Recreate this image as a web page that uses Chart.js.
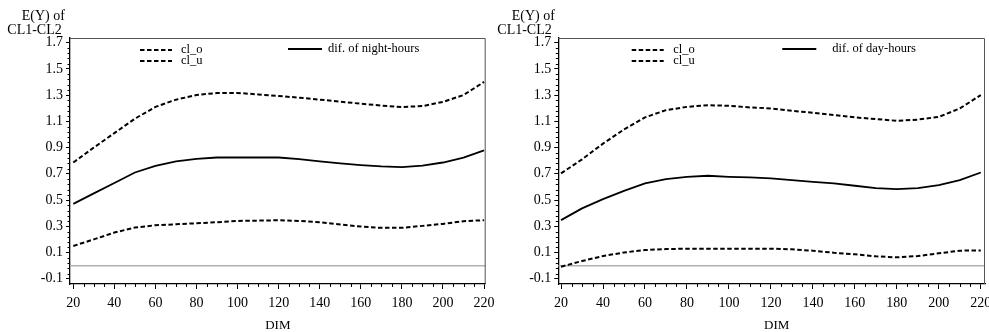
<!DOCTYPE html>
<html><head><meta charset="utf-8">
<script src="https://cdn.jsdelivr.net/npm/chart.js@4"></script>
<style>
html,body{margin:0;padding:0;background:#fff;}
#wrap{position:relative;width:989px;height:332px;overflow:hidden;background:#fff;}
canvas{position:absolute;top:0;}
#c1{left:0;} #c2{left:495px;}
</style></head><body>
<div id="wrap"><canvas id="c1" width="495" height="332"></canvas><canvas id="c2" width="494" height="332"></canvas></div>
<script>
// ---- data ----
const dim = [20,30,40,50,60,70,80,90,100,110,120,130,140,150,160,170,180,190,200,210,220];
const nightUpper = [0.786,0.90,1.01,1.12,1.21,1.265,1.30,1.316,1.316,1.305,1.293,1.28,1.265,1.25,1.234,1.22,1.209,1.216,1.248,1.30,1.40];
const nightDiff  = [0.471,0.551,0.63,0.71,0.761,0.794,0.814,0.824,0.824,0.824,0.824,0.812,0.794,0.779,0.766,0.756,0.751,0.763,0.786,0.824,0.878];
const nightLower = [0.150,0.20,0.252,0.29,0.308,0.315,0.323,0.331,0.341,0.343,0.346,0.341,0.331,0.313,0.298,0.288,0.288,0.303,0.318,0.339,0.346];
const dayUpper = [0.703,0.81,0.93,1.038,1.13,1.185,1.21,1.223,1.218,1.206,1.198,1.18,1.165,1.147,1.13,1.117,1.104,1.113,1.134,1.198,1.30];
const dayDiff  = [0.347,0.436,0.507,0.57,0.627,0.66,0.677,0.685,0.677,0.672,0.665,0.652,0.639,0.627,0.609,0.591,0.583,0.591,0.614,0.652,0.71];
const dayLower = [-0.008,0.035,0.073,0.10,0.119,0.126,0.129,0.129,0.129,0.129,0.129,0.124,0.114,0.098,0.086,0.071,0.063,0.073,0.094,0.114,0.116];
const xTickValues = [20,40,60,80,100,120,140,160,180,200,220];
const yTickValues = [-0.1,0.1,0.3,0.5,0.7,0.9,1.1,1.3,1.5,1.7];
const xMinorPerMajor = 4;
const yMinorPerMajor = 5;
const yTitleLines = ['E(Y) of','CL1-CL2'];
const xTitle = 'DIM';
const bandLabels = ['cl_o','cl_u'];
const nightLabel = 'dif. of night-hours';
const dayLabel = 'dif. of day-hours';
const refValue = 0;

const SERIF = "'Liberation Serif','Times New Roman',serif";

const decor = {
  id: 'decor',
  beforeDatasetsDraw(chart, args, o) {
    const {ctx, chartArea: a, scales: {y}} = chart;
    const py = y.getPixelForValue(refValue);
    ctx.save();
    ctx.strokeStyle = '#b0b0b0'; ctx.lineWidth = 1.5;
    ctx.beginPath(); ctx.moveTo(a.left, py); ctx.lineTo(a.right, py); ctx.stroke();
    ctx.restore();
  },
  afterDraw(chart, args, o) {
    const {ctx, chartArea: a, scales: {x, y}} = chart;
    ctx.save();
    // frame top/right
    ctx.strokeStyle = '#555'; ctx.lineWidth = 1;
    ctx.beginPath();
    ctx.moveTo(a.left, a.top + 0.5); ctx.lineTo(a.right - 0.5, a.top + 0.5); ctx.lineTo(a.right - 0.5, a.bottom);
    ctx.stroke();
    // minor ticks
    ctx.strokeStyle = '#000'; ctx.lineWidth = 1;
    ctx.beginPath();
    for (let i = 0; i < xTickValues.length - 1; i++) {
      const v0 = xTickValues[i], v1 = xTickValues[i + 1];
      for (let k = 1; k < xMinorPerMajor; k++) {
        const px = Math.round(x.getPixelForValue(v0 + (v1 - v0) * k / xMinorPerMajor)) + 0.5;
        ctx.moveTo(px, a.bottom); ctx.lineTo(px, a.bottom + 3);
      }
    }
    for (let i = 0; i < yTickValues.length - 1; i++) {
      const v0 = yTickValues[i], v1 = yTickValues[i + 1];
      for (let k = 1; k < yMinorPerMajor; k++) {
        const py = Math.round(y.getPixelForValue(v0 + (v1 - v0) * k / yMinorPerMajor)) + 0.5;
        ctx.moveTo(a.left, py); ctx.lineTo(a.left - 2.5, py);
      }
    }
    ctx.stroke();
    // legend
    ctx.fillStyle = '#000';
    ctx.textBaseline = 'middle'; ctx.textAlign = 'left';
    ctx.font = '12.5px ' + SERIF;
    const L = o.legend;
    ctx.lineWidth = 2; ctx.setLineDash([4.5, 2.5]);
    L.band.forEach((t, i) => {
      const yy = a.top + L.bandY[i];
      ctx.beginPath(); ctx.moveTo(a.left + L.bandX0, yy); ctx.lineTo(a.left + L.bandX1, yy); ctx.stroke();
      ctx.fillText(t, a.left + L.bandTextX, yy);
    });
    ctx.setLineDash([]);
    ctx.lineWidth = 1.8;
    const sy = a.top + L.solidY;
    ctx.beginPath(); ctx.moveTo(a.left + L.solidX0, sy); ctx.lineTo(a.left + L.solidX1, sy); ctx.stroke();
    ctx.fillText(L.solid, a.left + L.solidTextX, sy);
    // titles
    ctx.font = '14px ' + SERIF;
    o.yTitle.forEach((t, i) => ctx.fillText(t, a.left + o.yTitleX[i], a.top + o.yTitleY[i]));
    ctx.font = '13px ' + SERIF; ctx.textAlign = 'center';
    ctx.fillText(xTitle, (a.left + a.right) / 2 + o.xTitleDx, o.xTitleY);
    ctx.restore();
  }
};

function pts(arr) { return dim.map((d, i) => ({x: d, y: arr[i]})); }

function makeChart(id, cfg) {
  const dashed = {borderColor: '#000', borderWidth: 2, borderDash: [4.5, 2.5], pointRadius: 0, tension: 0, fill: false};
  return new Chart(document.getElementById(id), {
    type: 'line',
    data: {datasets: [
      Object.assign({label: bandLabels[0], data: pts(cfg.upper)}, dashed),
      Object.assign({label: bandLabels[1], data: pts(cfg.lower)}, dashed),
      {label: cfg.label, data: pts(cfg.diff), borderColor: '#000', borderWidth: 1.8, pointRadius: 0, tension: 0, fill: false}
    ]},
    options: {
      responsive: false, animation: false, devicePixelRatio: 1,
      layout: {padding: {left: 0, right: cfg.padRight, top: 38, bottom: 0}},
      plugins: {
        legend: {display: false}, tooltip: {enabled: false},
        decor: {
          legend: {band: bandLabels, bandX0: cfg.bandX0, bandX1: cfg.bandX0 + 32, bandY: [12, 23], bandTextX: cfg.bandTextX,
                   solid: cfg.label, solidX0: cfg.solidX0, solidX1: cfg.solidX0 + 34, solidY: 11, solidTextX: cfg.solidTextX},
          yTitle: yTitleLines, yTitleX: cfg.yTitleX, yTitleY: [-21.5, -8],
          xTitleDx: cfg.xTitleDx, xTitleY: 326
        }
      },
      scales: {
        x: {
          type: 'linear', min: cfg.xMin, max: cfg.xMax,
          afterBuildTicks: s => { s.ticks = xTickValues.map(v => ({value: v})); },
          afterFit: s => { s.height = 48; s.paddingLeft = 0; s.paddingRight = 0; },
          grid: {drawOnChartArea: false, drawTicks: true, tickLength: 5, color: '#000', tickWidth: 1},
          border: {display: true, color: '#000', width: 1.3},
          ticks: {font: {family: SERIF, size: 14}, color: '#000', padding: 6, maxRotation: 0, minRotation: 0, autoSkip: false, callback: v => String(v)}
        },
        y: {
          type: 'linear', min: -0.14, max: 1.735,
          afterBuildTicks: s => { s.ticks = yTickValues.map(v => ({value: v})); },
          afterFit: s => { s.width = cfg.yWidth; s.paddingTop = 0; s.paddingBottom = 0; },
          grid: {drawOnChartArea: false, drawTicks: true, tickLength: 4, color: '#000', tickWidth: 1},
          border: {display: true, color: '#000', width: 1.3},
          ticks: {font: {family: SERIF, size: 14}, color: '#000', padding: 3, autoSkip: false, callback: v => v.toFixed(1)}
        }
      }
    },
    plugins: [decor]
  });
}

makeChart('c1', {upper: nightUpper, lower: nightLower, diff: nightDiff, label: nightLabel,
  padRight: 9.3, yWidth: 70, xMin: 18.4, xMax: 220.8,
  bandX0: 70, bandTextX: 111, solidX0: 218, solidTextX: 258,
  yTitleX: [-48.3, -62.7], xTitleDx: 0});
makeChart('c2', {upper: dayUpper, lower: dayLower, diff: dayDiff, label: dayLabel,
  padRight: 4, yWidth: 63.3, xMin: 18.7, xMax: 222,
  bandX0: 73.4, bandTextX: 115, solidX0: 224, solidTextX: 274,
  yTitleX: [-46.6, -61], xTitleDx: 5});
</script>
</body></html>
